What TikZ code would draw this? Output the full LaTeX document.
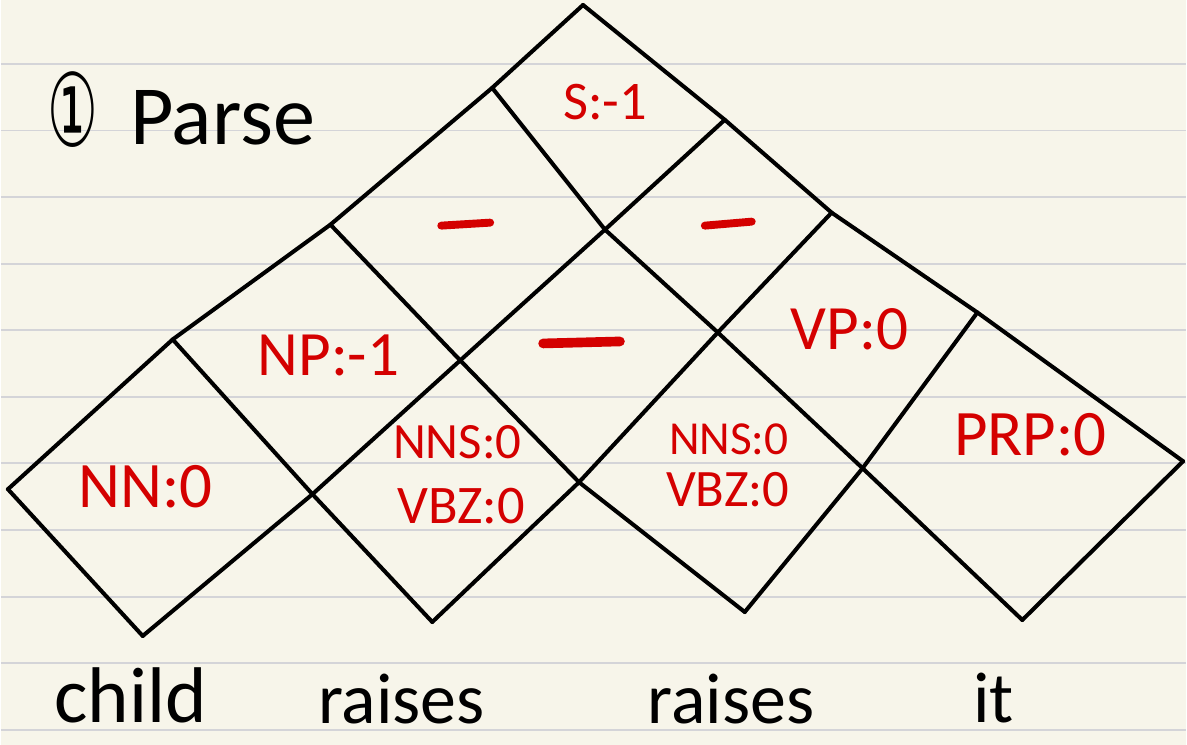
\documentclass[tikz,border=0pt]{standalone}
\usepackage{graphicx}
\usepackage{fontspec}
\setmainfont{Carlito}
\newfontfamily\symfont{DejaVu Sans}
\definecolor{paper}{HTML}{F7F5EA}
\definecolor{ruling}{HTML}{D4D4D8}
\definecolor{pen}{HTML}{D40000}

\begin{document}
\begin{tikzpicture}[x=0.02cm, y=-0.02cm,
    gridline/.style={line width=2.3pt, line cap=round, line join=round},
    cellval/.style={text=pen, inner sep=0pt},
    word/.style={inner sep=0pt, anchor=base, font=\fontsize{41}{44}\selectfont},
    blank/.style={pen, line width=4.5pt, line cap=round}]

  % Paper with ruled lines
  \fill[paper] (0,0) rectangle (1187,746);
  \foreach \k in {0,...,10}
    \draw[ruling, line width=1.1pt] (0,{64+66.7*\k}) -- (1187,{64+66.7*\k});

  % Title
  \node[inner sep=0pt, font=\symfont\fontsize{34}{38}\selectfont] (num) at (72,110) {\scalebox{0.95}[1.7]{①}};
  \node[word, font=\fontsize{48}{52}\selectfont] (title) at (222,145) {Parse};

  % Chart corners: (m,n) = crossing of up-line m and down-line n
  \coordinate (v00) at (7,490);
  \coordinate (v01) at (172,340);
  \coordinate (v02) at (330,225);
  \coordinate (v03) at (492,88);
  \coordinate (v04) at (583,5);
  \coordinate (v10) at (142,637);
  \coordinate (v11) at (312,495);
  \coordinate (v12) at (460,361);
  \coordinate (v13) at (605,230);
  \coordinate (v14) at (725,120);
  \coordinate (v21) at (432,623);
  \coordinate (v22) at (579,483);
  \coordinate (v23) at (718,333);
  \coordinate (v24) at (832,213);
  \coordinate (v32) at (745,613);
  \coordinate (v33) at (863,469);
  \coordinate (v34) at (978,313);
  \coordinate (v43) at (1023,621);
  \coordinate (v44) at (1184,462);

  % Up-right edges
  \draw[gridline] (v00) -- (v01) -- (v02) -- (v03) -- (v04);
  \draw[gridline] (v10) -- (v11) -- (v12) -- (v13) -- (v14);
  \draw[gridline] (v21) -- (v22) -- (v23) -- (v24);
  \draw[gridline] (v32) -- (v33) -- (v34);
  \draw[gridline] (v43) -- (v44);
  % Down-right edges
  \draw[gridline] (v00) -- (v10);
  \draw[gridline] (v01) -- (v11) -- (v21);
  \draw[gridline] (v02) -- (v12) -- (v22) -- (v32);
  \draw[gridline] (v03) -- (v13) -- (v23) -- (v33) -- (v43);
  \draw[gridline] (v04) -- (v14) -- (v24) -- (v34) -- (v44);

  % Cell entries
  \node[cellval, font=\fontsize{31}{34}\selectfont] (s) at (605,102) {S:-1};
  \node[cellval, font=\fontsize{36}{40}\selectfont] (np) at (328,356) {NP:-1};
  \node[cellval, font=\fontsize{36}{40}\selectfont] (vp) at (850,330) {VP:0};
  \node[cellval, font=\fontsize{37}{40}\selectfont] (nn) at (145,487) {NN:0};
  \node[cellval, font=\fontsize{29}{32}\selectfont] (nnsa) at (457,443) {NNS:0};
  \node[cellval, font=\fontsize{31}{34}\selectfont] (vbza) at (461,507) {VBZ:0};
  \node[cellval, font=\fontsize{27}{30}\selectfont] (nnsb) at (729,440) {NNS:0};
  \node[cellval, font=\fontsize{30}{33}\selectfont] (vbzb) at (728,490) {VBZ:0};
  \node[cellval, font=\fontsize{37}{40}\selectfont] (prp) at (1031,435) {PRP:0};

  % Empty cells
  \draw[blank] (441,226) -- (490,223);
  \draw[blank] (705,226) -- (752,222);
  \draw[blank, line width=5.5pt] (543,344) -- (620,342);

  % Sentence
  \node[word, font=\fontsize{45}{48}\selectfont] (w1) at (130,724) {child};
  \node[word] (w2) at (401,725) {raises};
  \node[word] (w3) at (731,725) {raises};
  \node[word] (w4) at (994,724) {it};
\end{tikzpicture}
\end{document}
